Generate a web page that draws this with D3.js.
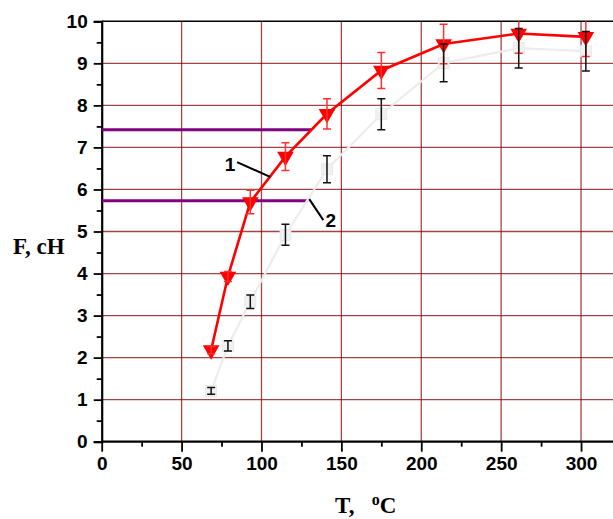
<!DOCTYPE html>
<html lang="en">
<head>
    <title>F vs T</title>
    <script src='https://d3js.org/d3.v7.min.js'></script>
    <style>
        body { margin: 0; background: #fff; }
        svg { display: block; }
    </style>
</head>
<body>
    <script>
        var width = 613, height = 519;

        // temperature, deg C
        var temps = [68.5, 79, 93, 115, 141, 175, 214, 261, 303];
        // curve 1 (red triangles)
        var force1 = [2.18, 3.93, 5.70, 6.78, 7.80, 8.83, 9.46, 9.71, 9.63];
        var err1 = [0.09, 0.12, 0.28, 0.33, 0.36, 0.43, 0.47, 0.47, 0.47];
        // curve 2 (grey squares)
        var force2 = [1.21, 2.28, 3.33, 4.92, 6.48, 7.79, 9.01, 9.36, 9.29];
        var err2 = [0.08, 0.12, 0.16, 0.25, 0.32, 0.37, 0.45, 0.47, 0.47];
        // horizontal level lines
        var levels = [7.42, 5.73];
        var levelEnds = [131, 129];
        var xTicks = [0, 50, 100, 150, 200, 250, 300];
        var yTicks = [0, 1, 2, 3, 4, 5, 6, 7, 8, 9, 10];

        var margin = {left: 101.7, top: 21.3, bottom: 77.3};

        var svg = d3.select('body')
            .append('svg')
            .attr('width', width)
            .attr('height', height);

        var x = d3.scaleLinear().domain([0, 320]).range([margin.left, width]);
        var y = d3.scaleLinear().domain([0, 10]).range([height - margin.bottom, margin.top]);

        svg.append('clipPath').attr('id', 'plot')
            .append('rect')
            .attr('x', x(0)).attr('y', y(10))
            .attr('width', width - x(0)).attr('height', y(0) - y(10));

        // grid
        svg.append('g').selectAll('line')
            .data(yTicks.slice(1, 10))
            .join('line')
            .attr('x1', x(0)).attr('x2', width)
            .attr('y1', function(d) { return y(d) })
            .attr('y2', function(d) { return y(d) })
            .style('stroke', '#800808').style('stroke-opacity', 0.75).style('stroke-width', 1.3);
        svg.append('g').selectAll('line')
            .data(xTicks.slice(1))
            .join('line')
            .attr('y1', y(0)).attr('y2', y(10))
            .attr('x1', function(d) { return x(d) })
            .attr('x2', function(d) { return x(d) })
            .style('stroke', '#800808').style('stroke-opacity', 0.75).style('stroke-width', 1.3);

        // top border
        svg.append('line')
            .attr('x1', x(0)).attr('x2', width)
            .attr('y1', y(10)).attr('y2', y(10))
            .style('stroke', '#000').style('stroke-width', 1.5);

        // axes
        var xAxis = d3.axisBottom(x).tickValues(d3.range(0, 325, 25)).tickSize(10)
            .tickFormat(function(d) { return d % 50 === 0 ? d : '' });
        var gx = svg.append('g')
            .attr('transform', 'translate(0,' + y(0) + ')')
            .call(xAxis);
        gx.selectAll('.tick line').filter(function(d) { return d % 50 !== 0 }).attr('y2', 5);

        var yAxis = d3.axisLeft(y).tickValues(d3.range(0, 10.5, 0.5)).tickSize(8)
            .tickFormat(function(d) { return d % 1 === 0 ? d : '' });
        var gy = svg.append('g')
            .attr('transform', 'translate(' + x(0) + ',0)')
            .call(yAxis);
        gy.selectAll('.tick line').filter(function(d) { return d % 1 !== 0 }).attr('x2', -5);

        [gx, gy].forEach(function(g) {
            g.select('.domain').style('stroke-width', 2.2).style('stroke', '#000');
            g.selectAll('.tick line').style('stroke-width', 1.8).style('stroke', '#000');
            g.selectAll('.tick text')
                .style('font-family', 'Liberation Sans, Arial, sans-serif')
                .style('font-weight', 'bold')
                .style('font-size', '19px')
                .style('fill', '#000');
        });
        gx.select('.domain').attr('d', 'M' + x(0) + ',0H' + width);
        gx.selectAll('.tick text').attr('y', 15);
        gy.selectAll('.tick text').attr('x', -14);

        var plot = svg.append('g').attr('clip-path', 'url(#plot)');

        // level lines
        plot.selectAll('.level')
            .data(levels)
            .join('line')
            .attr('class', 'level')
            .attr('x1', x(0))
            .attr('x2', function(d, i) { return x(levelEnds[i]) })
            .attr('y1', function(d) { return y(d) })
            .attr('y2', function(d) { return y(d) })
            .style('stroke', '#800080').style('stroke-width', 3);

        var pts2 = temps.map(function(t, i) { return {t: t, f: force2[i], e: err2[i]} });
        var pts1 = temps.map(function(t, i) { return {t: t, f: force1[i], e: err1[i]} });

        var line = d3.line()
            .x(function(d) { return x(d.t) })
            .y(function(d) { return y(d.f) });

        // curve 2
        plot.append('path').datum(pts2)
            .attr('d', line)
            .style('fill', 'none').style('stroke', '#ececec').style('stroke-width', 2.2);
        plot.selectAll('.sq')
            .data(pts2)
            .join('rect')
            .attr('class', 'sq')
            .attr('x', function(d) { return x(d.t) - 5.5 })
            .attr('y', function(d) { return y(d.f) - 5.5 })
            .attr('width', 11).attr('height', 11)
            .style('fill', '#f0f1f0').style('stroke', '#e4e6e4').style('stroke-width', 0.8);

        // curve 1
        plot.append('path').datum(pts1)
            .attr('d', line)
            .style('fill', 'none').style('stroke', '#ff0000').style('stroke-width', 2.6);
        plot.selectAll('.tri')
            .data(pts1)
            .join('path')
            .attr('class', 'tri')
            .attr('d', d3.symbol().type(d3.symbolTriangle).size(120))
            .attr('transform', function(d) { return 'translate(' + x(d.t) + ',' + y(d.f) + ') rotate(180)' })
            .style('fill', '#ff0000');

        // error bars
        function errBars(cls, pts, color) {
            var g = plot.selectAll('.' + cls)
                .data(pts)
                .join('g')
                .attr('class', cls)
                .style('stroke', color).style('stroke-width', 1.5);
            g.append('line')
                .attr('x1', function(d) { return x(d.t) }).attr('x2', function(d) { return x(d.t) })
                .attr('y1', function(d) { return y(d.f - d.e) }).attr('y2', function(d) { return y(d.f + d.e) });
            [-1, 1].forEach(function(s) {
                g.append('line')
                    .attr('x1', function(d) { return x(d.t) - 4 }).attr('x2', function(d) { return x(d.t) + 4 })
                    .attr('y1', function(d) { return y(d.f + s * d.e) })
                    .attr('y2', function(d) { return y(d.f + s * d.e) });
            });
        }
        errBars('eb1', pts1, '#ff3030');
        errBars('eb2', pts2, '#111');

        // curve labels
        var ann = [
            {text: '1', tx: 80.3, ty: 6.45, from: [84.7, 6.65], to: [105.4, 6.30]},
            {text: '2', tx: 143.3, ty: 5.1, from: [129.9, 5.77], to: [138.7, 5.27]}
        ];
        ann.forEach(function(a) {
            svg.append('line')
                .attr('x1', x(a.from[0])).attr('y1', y(a.from[1]))
                .attr('x2', x(a.to[0])).attr('y2', y(a.to[1]))
                .style('stroke', '#000').style('stroke-width', 2);
            svg.append('text')
                .attr('x', x(a.tx)).attr('y', y(a.ty))
                .attr('text-anchor', 'middle')
                .style('font-family', 'Liberation Sans, Arial, sans-serif')
                .style('font-weight', 'bold').style('font-size', '19px')
                .text(a.text);
        });

        // axis titles
        svg.append('text')
            .attr('x', 13).attr('y', 254)
            .style('font-family', 'Liberation Serif, Times New Roman, serif')
            .style('font-weight', 'bold').style('font-size', '23px')
            .text('F, cH');

        var tt = svg.append('text')
            .attr('x', 335).attr('y', 513)
            .style('font-family', 'Liberation Serif, Times New Roman, serif')
            .style('font-weight', 'bold').style('font-size', '23px')
            .attr('xml:space', 'preserve');
        tt.append('tspan').text('T,   ');
        tt.append('tspan').attr('dy', -8).style('font-size', '16px').text('o');
        tt.append('tspan').attr('dy', 8).text('C');
    </script>
</body>
</html>
